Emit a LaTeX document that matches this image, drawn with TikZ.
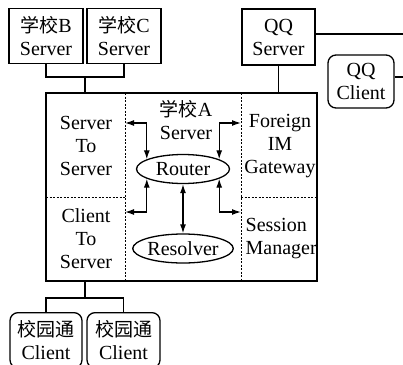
\documentclass[tikz,border=0pt]{standalone}
\usepackage{fontspec}
\setmainfont{Liberation Serif}
\newfontfamily\cjk[Scale=0.95]{Noto Sans CJK SC}
\usetikzlibrary{arrows.meta,shapes.geometric,calc}
\begin{document}
\begin{tikzpicture}[x=1pt,y=-1pt,
  font=\fontsize{20}{23}\selectfont,
  line width=1.3pt,
  sqbox/.style={draw, inner sep=0pt, align=center, minimum width=74, minimum height=55},
  rbox/.style={sqbox, rounded corners=8},
  txt/.style={inner sep=0pt, align=center},
  dsh/.style={line width=0.9pt, dash pattern=on 2pt off 1.5pt},
  oval/.style={draw, ellipse, inner sep=0pt, minimum width=93, minimum height=29},
  arr/.style={{Latex[length=9pt,width=6pt]}-{Latex[length=9pt,width=6pt]}}]
\useasboundingbox (0,0) rectangle (403,364);

% top boxes
\node[sqbox] (b) at (46,36) {{\cjk 学校}B\\Server};
\node[sqbox] (c) at (124,36) {{\cjk 学校}C\\Server};
\node[sqbox, minimum width=73, minimum height=56] (qqs) at (278.5,37) {QQ\\Server};
\node[rbox, minimum width=66, minimum height=53] (qqc) at (361,81.5) {QQ\\Client};

% main box
\node[draw, minimum width=271, minimum height=188, inner sep=0pt] (main) at (181.5,187) {};
\draw[dsh] (125,93) -- (125,281);
\draw[dsh] (241,93) -- (241,281);
\draw[dsh] (46,197) -- (125,197);
\draw[dsh] (241,197) -- (317,197);

\node[txt] (sts) at (86,146) {Server\\To\\Server};
\node[txt] (cts) at (86,239) {Client\\To\\Server};
\node[txt] (fig) at (280,146) {Foreign\\IM\\Gateway};
\node[txt, align=left, anchor=west] (sm) at (245,238.5) {Session\\Manager};
\node[txt] (sa) at (186,120.5) {{\cjk 学校}A\\Server};

\node[oval] (router) at (183,169) {Router};
\node[oval] (resolver) at (183,248.5) {Resolver};

% internal arrows
\coordinate (lt) at (125,123);
\coordinate (rt) at (241,123);
\coordinate (lb) at (125,212);
\coordinate (rb) at (241,212);
\draw[arr] (router.165) |- (lt);
\draw[arr] (router.15) |- (rt);
\draw[arr] (router.195) |- (lb);
\draw[arr] (router.345) |- (rb);
\draw[arr] (router.south) -- (resolver.north);

% bottom clients
\node[rbox, minimum height=0pt, minimum width=72, inner ysep=8pt, anchor=north] (c1) at (46,312) {{\cjk 校园通}\\Client};
\node[rbox, minimum height=0pt, minimum width=73, inner ysep=8pt, anchor=north] (c2) at (123.5,312) {{\cjk 校园通}\\Client};

% connectors
\coordinate (jt) at (85,77);
\draw (b.south) |- (jt) -| (c.south);
\draw (jt) -- (jt |- main.north);
\coordinate (jb) at (85,298);
\draw (c1.north) |- (jb) -| (c2.north);
\draw (jb) -- (jb |- main.south);
\draw (qqs.south) -- (qqs.south |- main.north);
\coordinate (e1) at (403,34);
\coordinate (e2) at (403,77);
\draw (qqs.east |- e1) -- (e1);
\draw (qqc.east |- e2) -- (e2);
\end{tikzpicture}
\end{document}
